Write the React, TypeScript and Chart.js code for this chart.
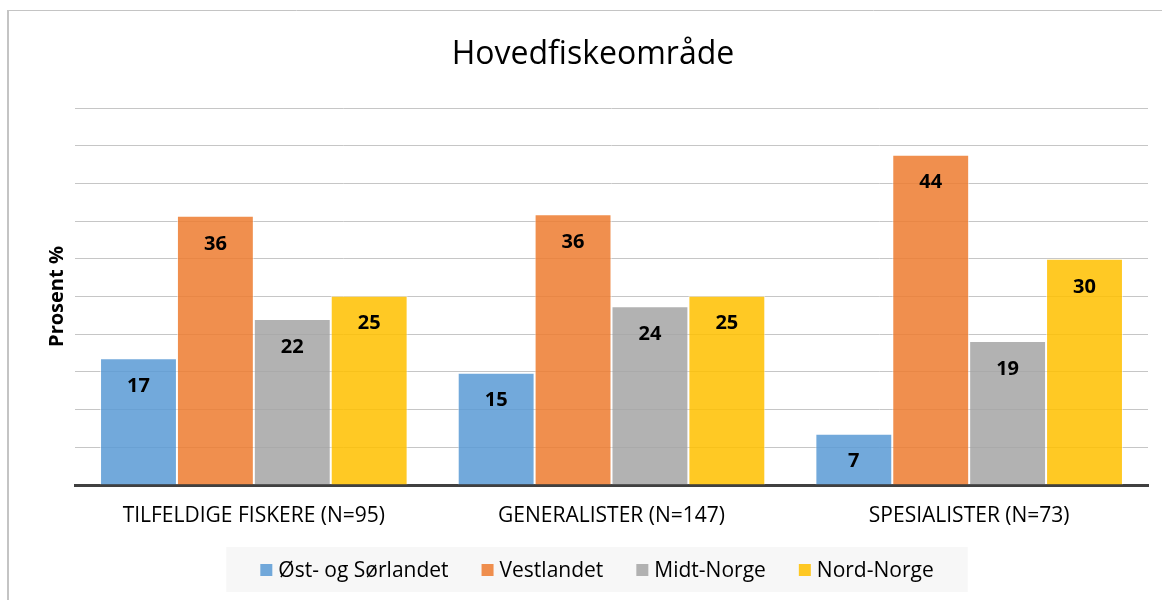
import React, { useEffect, useRef } from "react";
import { Chart, registerables } from "chart.js";

Chart.register(...registerables);

const TITLE = "Hovedfiskeområde";
const Y_TITLE = "Prosent %";
const categories = ["TILFELDIGE FISKERE (N=95)", "GENERALISTER (N=147)", "SPESIALISTER (N=73)"];
const seriesNames = ["Øst- og Sørlandet", "Vestlandet", "Midt-Norge", "Nord-Norge"];
const eastSouth = [16.8, 14.9, 6.8];
const west = [35.7, 35.9, 43.8];
const mid = [22.0, 23.7, 19.1];
const north = [25.1, 25.1, 30.0];
const seriesValues = [eastSouth, west, mid, north];
const seriesColors = [
  "rgba(91,155,213,0.86)",
  "rgba(237,125,49,0.86)",
  "rgba(165,165,165,0.86)",
  "rgba(255,192,0,0.86)",
];
const yMax = 50;
const yStep = 5;

const FONT = "'Open Sans', 'Noto Sans', sans-serif";

const decorPlugin = {
  id: "decor",
  beforeDraw(chart: any) {
    const ctx = chart.ctx;
    ctx.save();
    ctx.fillStyle = "#ffffff";
    ctx.fillRect(0, 0, chart.width, chart.height);
    ctx.strokeStyle = "#c4c4c4";
    ctx.lineWidth = 2;
    ctx.beginPath();
    ctx.moveTo(8, chart.height);
    ctx.lineTo(8, 10);
    ctx.stroke();
    ctx.lineWidth = 1;
    ctx.beginPath();
    ctx.moveTo(8, 10.5);
    ctx.lineTo(chart.width, 10.5);
    ctx.stroke();
    ctx.restore();
  },
  afterDraw(chart: any) {
    const ctx = chart.ctx;
    const ca = chart.chartArea;
    ctx.save();
    // title
    ctx.fillStyle = "#000000";
    ctx.font = `32px ${FONT}`;
    ctx.textAlign = "center";
    ctx.textBaseline = "middle";
    ctx.fillText(TITLE, 593, 55);
    // y title
    ctx.save();
    ctx.translate(57, (ca.top + ca.bottom) / 2);
    ctx.rotate(-Math.PI / 2);
    ctx.font = `bold 20px ${FONT}`;
    ctx.fillText(Y_TITLE, 0, 0);
    ctx.restore();
    // legend
    ctx.font = `21px ${FONT}`;
    const sq = 12;
    const gapSq = 6;
    const gapItem = 33;
    const widths = seriesNames.map((n) => sq + gapSq + ctx.measureText(n).width);
    const total = widths.reduce((a, b) => a + b, 0) + gapItem * (seriesNames.length - 1);
    const cx = 597;
    let x = cx - total / 2;
    const ly = 570;
    ctx.fillStyle = "#f7f7f7";
    ctx.fillRect(x - 34, 547, total + 68, 45);
    ctx.textAlign = "left";
    seriesNames.forEach((n, i) => {
      ctx.fillStyle = seriesColors[i];
      ctx.fillRect(x, ly - sq / 2, sq, sq);
      ctx.fillStyle = "#000000";
      ctx.fillText(n, x + sq + gapSq, ly + 1);
      x += widths[i] + gapItem;
    });
    ctx.restore();
  },
  afterDatasetsDraw(chart: any) {
    const ctx = chart.ctx;
    ctx.save();
    ctx.font = `bold 20px ${FONT}`;
    ctx.fillStyle = "#000000";
    ctx.textAlign = "center";
    ctx.textBaseline = "middle";
    chart.data.datasets.forEach((ds: any, di: number) => {
      const meta = chart.getDatasetMeta(di);
      meta.data.forEach((el: any, i: number) => {
        ctx.fillText(String(Math.round(ds.data[i])), el.x, el.y + 28);
      });
    });
    ctx.restore();
  },
};

export default function App() {
  const ref = useRef<HTMLCanvasElement>(null);
  useEffect(() => {
    if (!ref.current) return;
    const chart = new Chart(ref.current, {
      type: "bar",
      data: {
        labels: categories,
        datasets: seriesNames.map((name, i) => ({
          label: name,
          data: seriesValues[i],
          backgroundColor: seriesColors[i],
          borderColor: "rgba(255,255,255,0.55)",
          borderWidth: 1,
          barPercentage: 1,
          categoryPercentage: 0.86,
        })),
      },
      options: {
        responsive: false,
        animation: false,
        layout: { padding: { left: 75, right: 14, top: 108, bottom: 0 } },
        plugins: {
          legend: { display: false },
          title: { display: false },
          tooltip: { enabled: false },
        },
        scales: {
          y: {
            min: 0,
            max: yMax,
            ticks: { display: false, stepSize: yStep },
            grid: { color: "#c6c6c6", lineWidth: 1, drawTicks: false },
            border: { display: false },
            afterFit: (s: any) => {
              s.width = 0;
            },
          },
          x: {
            grid: { display: false, drawTicks: false },
            border: { display: true, color: "#404040", width: 3 },
            ticks: {
              color: "#000000",
              font: { family: FONT, size: 21 },
              padding: 18,
              maxRotation: 0,
            },
            afterFit: (s: any) => {
              s.height = 115;
            },
          },
        },
      },
      plugins: [decorPlugin],
    });
    return () => chart.destroy();
  }, []);
  return (
    <div style={{ position: "absolute", left: 0, top: 0, width: 1162, height: 600 }}>
      <canvas ref={ref} width={1162} height={600} />
    </div>
  );
}
